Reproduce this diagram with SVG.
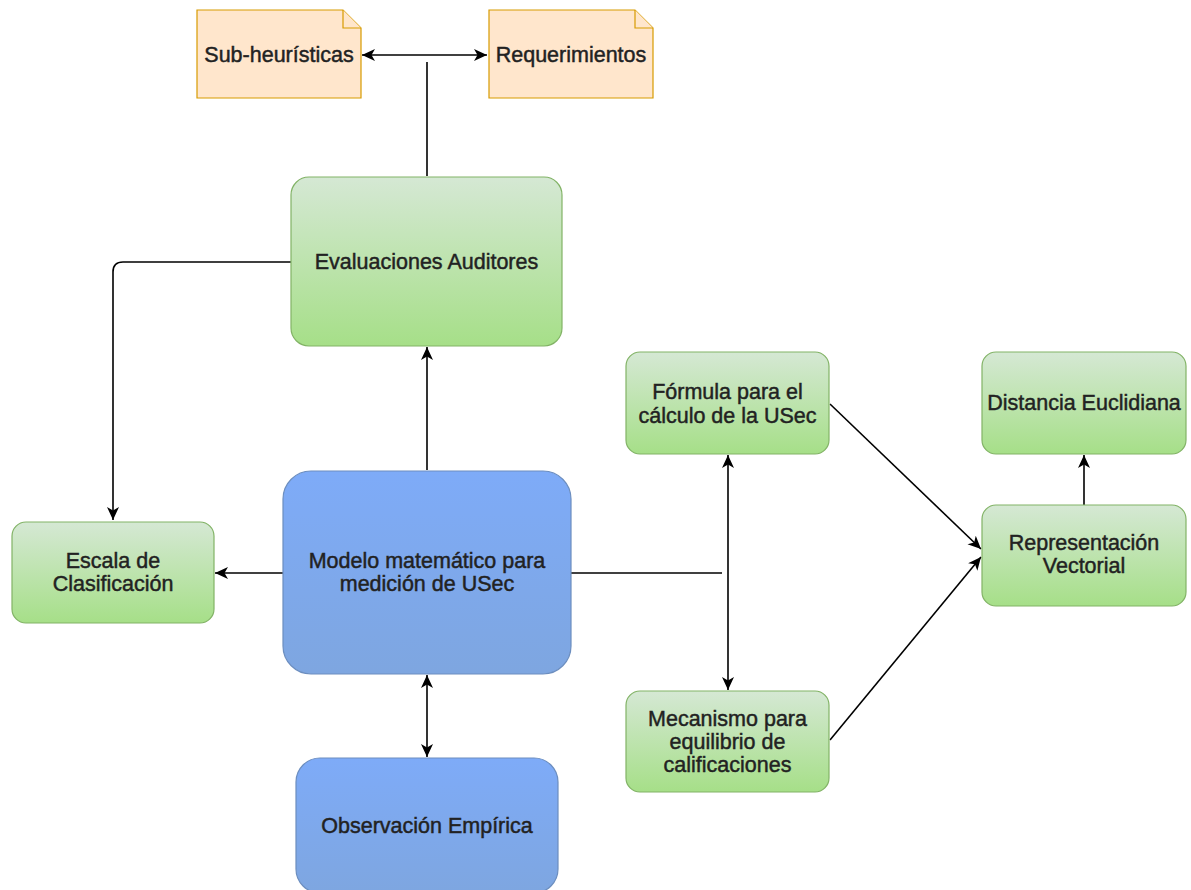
<svg xmlns="http://www.w3.org/2000/svg" width="1191" height="890" viewBox="0 0 1191 890">
<style>
  .lbl{font-family:"Liberation Sans",Arial,sans-serif;font-size:21.5px;fill:#222;stroke:#222;stroke-width:0.45;text-anchor:middle}
  .g{fill:url(#gg);stroke:#82b366;stroke-width:1.2}
  .b{fill:url(#gb);stroke:#6c8ebf;stroke-width:1.2}
  .n{fill:#ffe6cc;stroke:#d79b00;stroke-width:1.2}
  .c{fill:none;stroke:#000;stroke-width:1.6}
  .a{marker-end:url(#ar)}
  .aa{marker-start:url(#ar);marker-end:url(#ar)}
</style>
<defs>
  <linearGradient id="gg" x1="0" y1="0" x2="0" y2="1">
    <stop offset="0" stop-color="#d5e8d4"/>
    <stop offset="1" stop-color="#a6df88"/>
  </linearGradient>
  <linearGradient id="gb" x1="0" y1="0" x2="0" y2="1">
    <stop offset="0" stop-color="#7eabf8"/>
    <stop offset="1" stop-color="#7ea6e0"/>
  </linearGradient>
  <marker id="ar" markerUnits="userSpaceOnUse" markerWidth="14" markerHeight="14" viewBox="0 0 14 14" refX="13" refY="7" orient="auto-start-reverse">
    <path d="M0,1 L13,7 L0,13 L3.5,7 Z" fill="#000"/>
  </marker>
</defs>

<g id="connectors">
  <path class="c aa" d="M362,55 L487,55"/>
  <path class="c" d="M427,62 L427,176"/>
  <path class="c a" d="M291,262 L123,262 Q113,262 113,272 L113,520"/>
  <path class="c a" d="M427,470 L427,347"/>
  <path class="c a" d="M283,573 L215,573"/>
  <path class="c" d="M571,573 L722,573"/>
  <path class="c aa" d="M728,455 L728,690"/>
  <path class="c aa" d="M427,675 L427,757"/>
  <path class="c a" d="M830,404 L981,549"/>
  <path class="c a" d="M830,740 L981,557"/>
  <path class="c a" d="M1084,505 L1084,455"/>
</g>

<g id="sub-heuristicas">
  <path class="n" d="M197,10 L343,10 L361,28 L361,98 L197,98 Z"/>
  <path class="n" d="M343,10 L343,28 L361,28"/>
  <text class="lbl" x="279" y="62">Sub-heurísticas</text>
</g>
<g id="requerimientos">
  <path class="n" d="M489,10 L635,10 L653,28 L653,98 L489,98 Z"/>
  <path class="n" d="M635,10 L635,28 L653,28"/>
  <text class="lbl" x="571" y="62">Requerimientos</text>
</g>
<g id="evaluaciones">
  <rect class="g" x="291" y="177" width="271" height="169" rx="18"/>
  <text class="lbl" x="426.5" y="269">Evaluaciones Auditores</text>
</g>
<g id="escala">
  <rect class="g" x="12" y="522" width="202" height="101" rx="14"/>
  <text class="lbl" x="113" y="568">Escala de</text>
  <text class="lbl" x="113" y="591">Clasificación</text>
</g>
<g id="modelo">
  <rect class="b" x="283" y="471" width="288" height="203" rx="28"/>
  <text class="lbl" x="427" y="568">Modelo matemático para</text>
  <text class="lbl" x="427" y="591">medición de USec</text>
</g>
<g id="observacion">
  <rect class="b" x="296" y="758" width="262" height="135" rx="24"/>
  <text class="lbl" x="427" y="833">Observación Empírica</text>
</g>
<g id="formula">
  <rect class="g" x="626" y="352" width="203" height="102" rx="14"/>
  <text class="lbl" x="727.5" y="399">Fórmula para el</text>
  <text class="lbl" x="727.5" y="423">cálculo de la USec</text>
</g>
<g id="mecanismo">
  <rect class="g" x="626" y="691" width="203" height="101" rx="14"/>
  <text class="lbl" x="727.5" y="726">Mecanismo para</text>
  <text class="lbl" x="727.5" y="749">equilibrio de</text>
  <text class="lbl" x="727.5" y="772">calificaciones</text>
</g>
<g id="distancia">
  <rect class="g" x="982" y="352" width="204" height="102" rx="14"/>
  <text class="lbl" x="1084" y="410">Distancia Euclidiana</text>
</g>
<g id="representacion">
  <rect class="g" x="982" y="505" width="204" height="101" rx="14"/>
  <text class="lbl" x="1084" y="550">Representación</text>
  <text class="lbl" x="1084" y="573">Vectorial</text>
</g>
</svg>
